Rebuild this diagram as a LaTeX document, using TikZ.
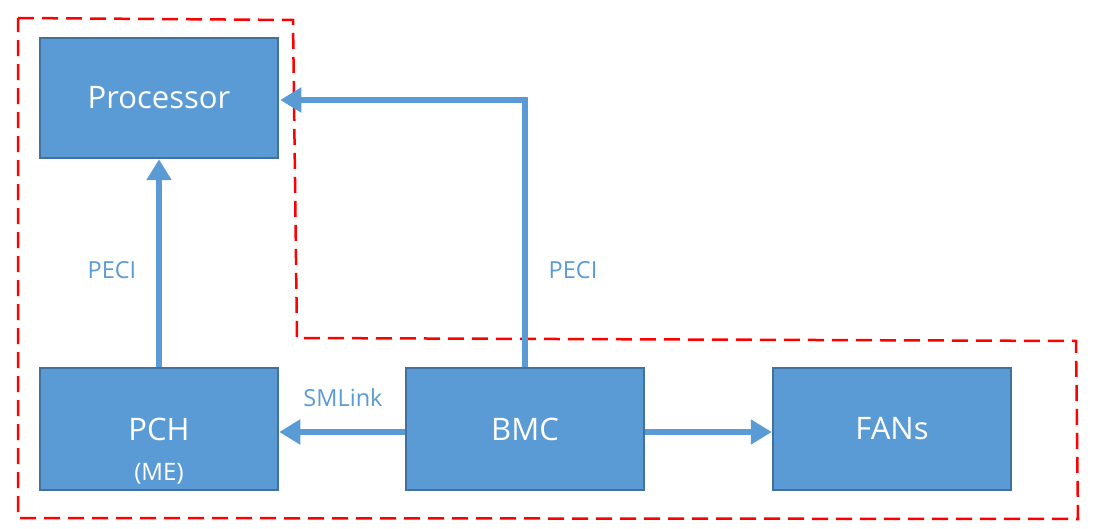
\documentclass[tikz,border=0pt]{standalone}
\usepackage{fontspec}
\setmainfont{Open Sans}
\usepackage{tikz}
\usetikzlibrary{arrows.meta,positioning,calc}
\definecolor{boxblue}{RGB}{91,155,213}
\definecolor{boxedge}{RGB}{65,113,156}
\definecolor{zonered}{RGB}{255,0,0}
\tikzset{
  blk/.style={draw=boxedge,line width=2.5pt,fill=boxblue,text=white,
              minimum width=238pt,minimum height=120pt,
              font=\fontsize{31}{36}\selectfont},
  arr/.style={-{Triangle[length=21pt,width=24pt]},line width=6pt,draw=boxblue},
  lbl/.style={text=boxblue,font=\fontsize{23.5}{28}\selectfont},
}
\begin{document}
\begin{tikzpicture}[x=1pt,y=-1pt]
  \useasboundingbox (0,0) rectangle (1100,529);
  % managed zone
  \draw[zonered,line width=2.5pt,dash pattern=on 16pt off 8pt]
    (18,18) -- (293,20) -- (297,338) -- (1076,341) -- (1078,519) -- (18,518) -- cycle;
  % blocks
  \node[blk] (cpu) at (159,98) {Processor};
  \node[blk,minimum height=122pt] (pch) at (159,429) {PCH};
  \node[text=white,font=\fontsize{24}{28}\selectfont,above=3pt of pch.south] (me) {(ME)};
  \node[blk,minimum height=122pt] (bmc) at (525,429) {BMC};
  \node[blk,minimum height=122pt] (fan) at (892,429) {FANs};
  % links
  \draw[arr] (pch.north) -- (cpu.south);
  \draw[arr] (bmc.north) |- ($(cpu.east)+(1,2)$);
  \draw[arr] ($(bmc.west)+(0,3)$) -- ($(pch.east)+(0,3)$);
  \draw[arr] ($(bmc.east)+(0,3)$) -- ($(fan.west)+(0,3)$);
  \node[lbl] (peci1) at (112,270) {PECI};
  \node[lbl] (peci2) at (573,270) {PECI};
  \node[lbl] (smlink) at (343,398) {SMLink};
\end{tikzpicture}
\end{document}
